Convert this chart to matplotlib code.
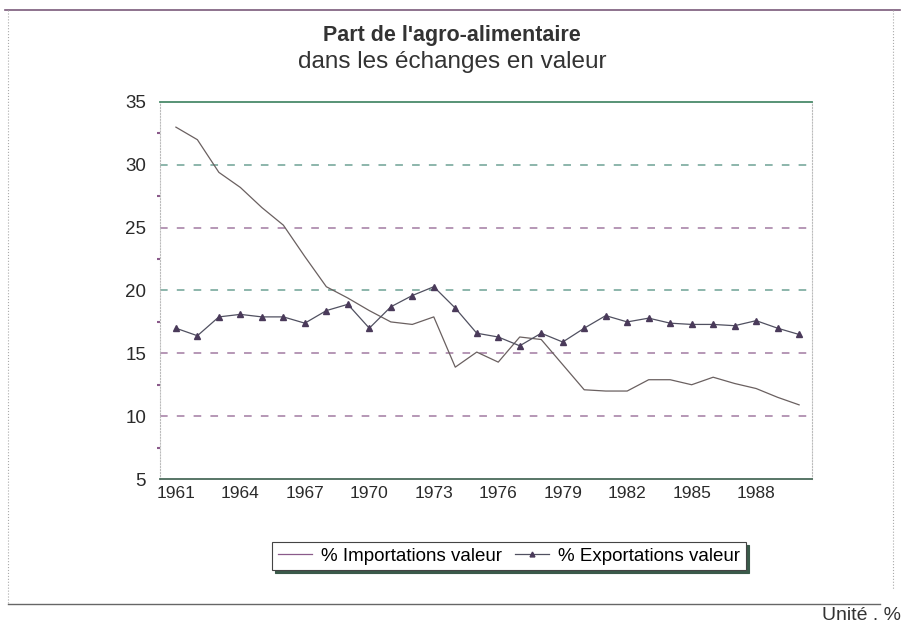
'''Part de l'agro-alimentaire dans les echanges en valeur'''
import matplotlib
matplotlib.use("Agg")
import matplotlib.pyplot as plt
from matplotlib.lines import Line2D

years = list(range(1961, 1991))
imports = [33.0, 32.0, 29.4, 28.2, 26.6, 25.2, 22.7, 20.3, 19.4, 18.4,
           17.5, 17.3, 17.9, 13.9, 15.1, 14.3, 16.3, 16.1, 14.1, 12.1,
           12.0, 12.0, 12.9, 12.9, 12.5, 13.1, 12.6, 12.2, 11.5, 10.9]
exports = [17.0, 16.4, 17.9, 18.1, 17.9, 17.9, 17.4, 18.4, 18.9, 17.0,
           18.7, 19.6, 20.3, 18.6, 16.6, 16.3, 15.6, 16.6, 15.9, 17.0,
           18.0, 17.5, 17.8, 17.4, 17.3, 17.3, 17.2, 17.6, 17.0, 16.5]
xticks = list(range(1961, 1991, 3))
yticks = [5, 10, 15, 20, 25, 30, 35]
grid_colors = {10: '#8a5a8a', 15: '#8a5a8a', 20: '#4a8a7a', 25: '#8a5a8a', 30: '#4a8a7a'}


def main():
    ''' Main function for module'''
    plt.rcParams['font.family'] = ['Liberation Sans', 'DejaVu Sans']
    fig = plt.figure(figsize=(9.04, 6.27), dpi=100)
    ax = fig.add_axes([160 / 904, 1 - 479 / 627, 652 / 904, 377 / 627])

    for val, col in grid_colors.items():
        ax.axhline(val, color=col, lw=1.1, ls=(0, (5, 6)), alpha=0.8, zorder=1)

    ax.plot(years, imports, color='#6a6060', lw=0.9, zorder=3)
    ax.plot(years, exports, color='#505060', lw=0.9, marker='^', ms=4,
            mfc='#4a3a5a', mec='#4a3a5a', zorder=4)

    ax.set_xlim(1960.26, 1990.6)
    ax.set_ylim(5, 35)
    ax.set_xticks(xticks)
    ax.set_yticks(yticks)
    ax.set_yticks([7.5, 12.5, 17.5, 22.5, 27.5, 32.5], minor=True)
    ax.tick_params(axis='x', length=0, labelsize=12.5, pad=5, colors='#2a2a2a')
    ax.tick_params(axis='y', which='major', length=0, labelsize=13.5, pad=10,
                   colors='#2a2a2a')
    ax.tick_params(axis='y', which='minor', length=2, width=1.5, color='#8a5a8a')

    ax.spines['top'].set_color('#4a8a6a')
    ax.spines['top'].set_linewidth(1.3)
    ax.spines['bottom'].set_color('#4a6a5a')
    ax.spines['bottom'].set_linewidth(1.3)
    ax.spines['left'].set_color('#bbbbbb')
    ax.spines['left'].set_linestyle(':')
    ax.spines['right'].set_color('#bbbbbb')
    ax.spines['right'].set_linestyle(':')

    fig.text(0.5, 1 - 35 / 627, "Part de l'agro-alimentaire", ha='center',
             va='center', fontsize=15.5, fontweight='bold', color='#333333')
    fig.text(0.5, 1 - 62 / 627, "dans les échanges en valeur", ha='center',
             va='center', fontsize=17.5, color='#333333')

    handles = [Line2D([], [], color='#8a5a8a', lw=0.9),
               Line2D([], [], color='#505060', lw=0.9, marker='^', ms=3.5,
                      mfc='#4a3a5a', mec='#4a3a5a')]
    leg = fig.legend(handles, ['% Importations valeur', '% Exportations valeur'],
                     loc='center', bbox_to_anchor=(509 / 904, 1 - 556 / 627),
                     ncol=2, fontsize=13.5, frameon=True, fancybox=False,
                     shadow={'color': '#3a5a4a', 'alpha': 1}, edgecolor='#444444',
                     handlelength=1.8, columnspacing=0.7, handletextpad=0.5,
                     borderpad=0.3, borderaxespad=0)
    leg.get_frame().set_linewidth(0.8)

    # outer frame
    fig.add_artist(Line2D([5 / 904, 900 / 904], [1 - 10 / 627, 1 - 10 / 627],
                          color='#7a5a7a', lw=1.2))
    fig.add_artist(Line2D([8 / 904, 8 / 904], [1 - 10 / 627, 1 - 604 / 627],
                          color='#aaaaaa', lw=0.8, ls=':'))
    fig.add_artist(Line2D([893 / 904, 893 / 904], [1 - 10 / 627, 1 - 590 / 627],
                          color='#aaaaaa', lw=0.8, ls=':'))
    fig.add_artist(Line2D([8 / 904, 880 / 904], [1 - 604 / 627, 1 - 604 / 627],
                          color='#666666', lw=1.0))
    fig.text(901 / 904, 1 - 616 / 627, "Unité . %", ha='right', va='center',
             fontsize=14, color='#333333')

    fig.savefig("out.png", dpi=100)


if __name__ == "__main__":
    main()
